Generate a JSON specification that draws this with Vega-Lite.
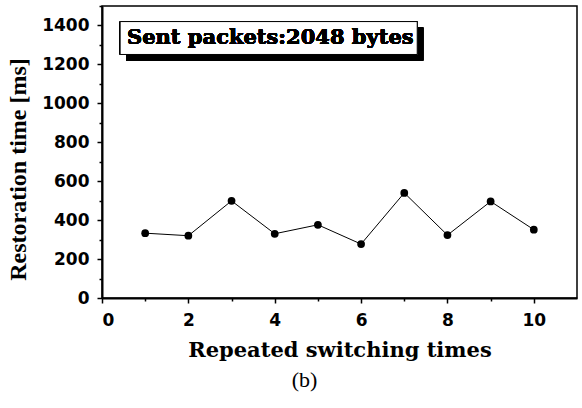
{
  "$schema": "https://vega.github.io/schema/vega-lite/v6.json",
  "width": 475,
  "height": 292,
  "autosize": {"type": "none"},
  "padding": {"left": 102, "top": 6, "right": 5, "bottom": 110},
  "background": "white",
  "config": {
    "view": {"stroke": "black", "strokeWidth": 1.5},
    "axis": {
      "grid": false,
      "domainColor": "black",
      "domainWidth": 2,
      "tickColor": "black",
      "tickWidth": 1.5,
      "labelFont": "DejaVu Sans",
      "labelFontWeight": "bold",
      "labelFontSize": 17,
      "labelColor": "black",
      "titleFont": "DejaVu Serif",
      "titleFontWeight": "bold",
      "titleFontSize": 21,
      "titleColor": "black"
    }
  },
  "title": {
    "text": "(b)",
    "orient": "bottom",
    "font": "Liberation Serif",
    "fontSize": 22,
    "fontWeight": "normal",
    "color": "black",
    "dx": -35,
    "offset": 10
  },
  "data": {
    "values": [
      {"t": 1, "ms": 333},
      {"t": 2, "ms": 320},
      {"t": 3, "ms": 499},
      {"t": 4, "ms": 330},
      {"t": 5, "ms": 376},
      {"t": 6, "ms": 277},
      {"t": 7, "ms": 540},
      {"t": 8, "ms": 323},
      {"t": 9, "ms": 496},
      {"t": 10, "ms": 351}
    ]
  },
  "layer": [
    {
      "mark": {"type": "line", "color": "black", "strokeWidth": 1},
      "encoding": {
        "x": {
          "field": "t", "type": "quantitative",
          "scale": {"domain": [0, 11], "nice": false, "zero": false},
          "axis": {
            "orient": "bottom",
            "values": [0, 2, 4, 6, 8, 10],
            "format": "d",
            "tickSize": 5,
            "labelPadding": 9,
            "title": "Repeated switching times",
            "titlePadding": 11
          }
        },
        "y": {
          "field": "ms", "type": "quantitative",
          "scale": {"domain": [0, 1500], "nice": false},
          "axis": {
            "orient": "left",
            "values": [0, 200, 400, 600, 800, 1000, 1200, 1400],
            "format": "d",
            "tickSize": 5,
            "labelPadding": 8,
            "title": "Restoration time [ms]",
            "titleFont": "Liberation Serif",
            "titleFontSize": 24,
            "titlePadding": 11,
            "titleY": 163
          }
        }
      }
    },
    {
      "mark": {"type": "point", "filled": true, "color": "black", "size": 60, "opacity": 1},
      "encoding": {
        "x": {"field": "t", "type": "quantitative", "axis": null},
        "y": {"field": "ms", "type": "quantitative", "axis": null}
      }
    },
    {
      "mark": {"type": "point", "opacity": 0},
      "encoding": {
        "x": {
          "field": "t", "type": "quantitative",
          "axis": {"orient": "bottom", "values": [1, 3, 5, 7, 9], "tickSize": 3, "labels": false, "domain": false, "title": null}
        },
        "y": {
          "field": "ms", "type": "quantitative",
          "axis": {"orient": "left", "values": [100, 300, 500, 700, 900, 1100, 1300, 1500], "tickSize": 3, "labels": false, "domain": false, "title": null}
        }
      }
    },
    {
      "mark": {"type": "rect", "color": "black"},
      "encoding": {
        "x": {"datum": 0.56, "type": "quantitative", "axis": null},
        "x2": {"datum": 7.44},
        "y": {"datum": 1389, "type": "quantitative", "axis": null},
        "y2": {"datum": 1220}
      }
    },
    {
      "mark": {"type": "rect", "fill": "white", "stroke": "black", "strokeWidth": 1},
      "encoding": {
        "x": {"datum": 0.42, "type": "quantitative", "axis": null},
        "x2": {"datum": 7.3},
        "y": {"datum": 1420, "type": "quantitative", "axis": null},
        "y2": {"datum": 1251}
      }
    },
    {
      "mark": {"type": "text", "text": "Sent packets:2048 bytes", "font": "DejaVu Serif", "fontWeight": "bold", "fontSize": 21, "align": "left", "baseline": "middle", "color": "black"},
      "encoding": {
        "x": {"datum": 0.58, "type": "quantitative", "axis": null},
        "y": {"datum": 1336, "type": "quantitative", "axis": null}
      }
    }
  ],
  "resolve": {"axis": {"x": "independent", "y": "independent"}}
}
